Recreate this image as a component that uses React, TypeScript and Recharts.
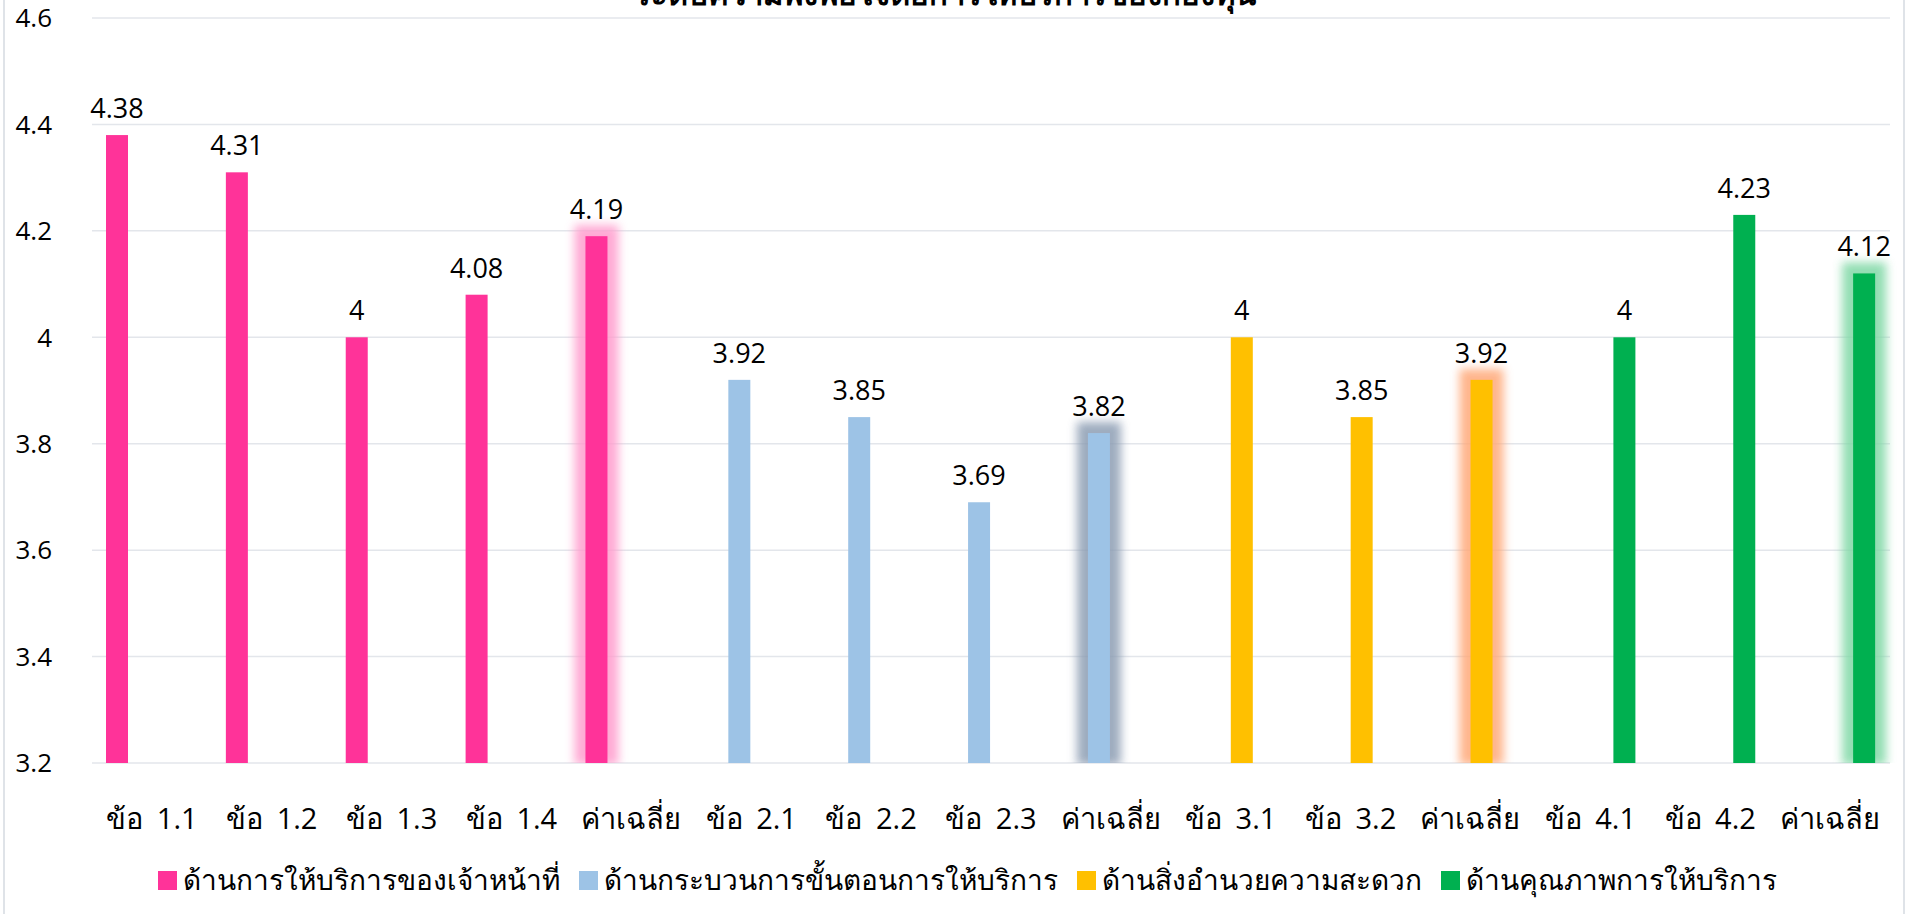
import React from 'react';
import { BarChart, Bar, XAxis, YAxis, CartesianGrid, Legend, LabelList } from 'recharts';

// x-axis categories, in order
const categories = [
  'ข้อ 1.1', 'ข้อ 1.2', 'ข้อ 1.3', 'ข้อ 1.4', 'ค่าเฉลี่ย',
  'ข้อ 2.1', 'ข้อ 2.2', 'ข้อ 2.3', 'ค่าเฉลี่ย',
  'ข้อ 3.1', 'ข้อ 3.2', 'ค่าเฉลี่ย',
  'ข้อ 4.1', 'ข้อ 4.2', 'ค่าเฉลี่ย',
];

// one list per side, in the same order as the categories
const staffValues = [4.38, 4.31, 4, 4.08, 4.19];
const processValues = [3.92, 3.85, 3.69, 3.82];
const facilityValues = [4, 3.85, 3.92];
const qualityValues = [4, 4.23, 4.12];

const seriesNames = [
  'ด้านการให้บริการของเจ้าหน้าที่',
  'ด้านกระบวนการขั้นตอนการให้บริการ',
  'ด้านสิ่งอำนวยความสะดวก',
  'ด้านคุณภาพการให้บริการ',
];

const yTicks = [3.2, 3.4, 3.6, 3.8, 4, 4.2, 4.4, 4.6];

const TITLE = 'ระดับความพึงพอใจต่อการให้บริการของกองทุน';
const AVG_LABEL = 'ค่าเฉลี่ย';

const COLORS = ['#FF3399', '#9DC3E6', '#FFC000', '#00B050'];
const GLOW = ['#ff9ccd', '#8c9db3', '#ffa878', '#80d8a6'];
const KEYS = ['s1', 's2', 's3', 's4'];

const FONT = '"Segoe UI", "Open Sans", "Noto Sans", sans-serif';

// each category gets a slot for all four sides; only its own side is filled
const groups = [staffValues, processValues, facilityValues, qualityValues];
const data: Record<string, any>[] = [];
groups.forEach((vals, g) => {
  vals.forEach((v) => {
    const i = data.length;
    const row: Record<string, any> = { name: categories[i], s1: null, s2: null, s3: null, s4: null };
    row[KEYS[g]] = v;
    data.push(row);
  });
});

const makeShape = (si: number) => (props: any) => {
  const { x, y, width, height, payload } = props;
  if (width == null || height == null || height <= 0) return <g />;
  const avg = payload && payload.name === AVG_LABEL;
  return (
    <g>
      {avg && (
        <rect
          x={x - 11}
          y={y - 11}
          width={width + 22}
          height={height + 13}
          fill={GLOW[si]}
          opacity={0.85}
          filter="url(#barGlow)"
        />
      )}
      <rect x={x} y={y} width={width} height={height} fill={COLORS[si]} />
    </g>
  );
};

const valueLabel = (props: any) => {
  const { x, y, width, value } = props;
  if (value == null) return null;
  return (
    <text
      x={x + width / 2}
      y={y - 17}
      textAnchor="middle"
      fontSize={27}
      fontFamily={FONT}
      fill="#000"
    >
      {value}
    </text>
  );
};

const LegendContent = () => (
  <div
    style={{
      display: 'flex',
      justifyContent: 'center',
      alignItems: 'center',
      height: 60,
      paddingLeft: 44,
      paddingBottom: 8,
      boxSizing: 'border-box',
      fontFamily: FONT,
      fontSize: 28,
      color: '#000',
    }}
  >
    {seriesNames.map((n, i) => (
      <div key={n} style={{ display: 'flex', alignItems: 'center', marginRight: i < 3 ? 19 : 0 }}>
        <span style={{ width: 19, height: 19, background: COLORS[i], marginRight: 6, display: 'inline-block' }} />
        <span>{n}</span>
      </div>
    ))}
  </div>
);

export default function App() {
  return (
    <div style={{ position: 'absolute', left: 0, top: 0, width: 1907, height: 914, background: '#fff', overflow: 'hidden' }}>
      <svg width={0} height={0} style={{ position: 'absolute' }}>
        <defs>
          <filter id="barGlow" x="-100%" y="-20%" width="300%" height="140%">
            <feGaussianBlur stdDeviation="5" />
          </filter>
        </defs>
      </svg>
      <div
        style={{
          position: 'absolute',
          top: -31,
          left: 0,
          width: 1890,
          textAlign: 'center',
          fontFamily: FONT,
          fontWeight: 'bold',
          fontSize: 31,
          color: '#000',
        }}
      >
        {TITLE}
      </div>
      <div style={{ position: 'absolute', left: 3, top: 0, width: 2, height: 914, background: '#dfe3e8' }} />
      <div style={{ position: 'absolute', left: 1903, top: 0, width: 2, height: 914, background: '#dfe3e8' }} />
      <BarChart
        width={1907}
        height={914}
        data={data}
        margin={{ top: 18, right: 17, bottom: 0, left: 0 }}
        barGap={1}
        barSize={22}
      >
        <CartesianGrid vertical={false} stroke="#e3e6eb" strokeWidth={1.5} />
        <XAxis
          dataKey="name"
          axisLine={false}
          tickLine={false}
          tickSize={0}
          tickMargin={45}
          height={91}
          interval={0}
          tick={{ fontSize: 29, fontFamily: FONT, fill: '#000', wordSpacing: 6 }}
        />
        <YAxis
          domain={[3.2, 4.6]}
          ticks={yTicks}
          allowDataOverflow
          axisLine={false}
          tickLine={false}
          tickSize={0}
          tickMargin={40}
          width={92}
          tick={{ fontSize: 26, fontFamily: FONT, fill: '#000' }}
        />
        <Legend verticalAlign="bottom" height={60} content={<LegendContent />} />
        {KEYS.map((k, i) => (
          <Bar
            key={k}
            dataKey={k}
            name={seriesNames[i]}
            fill={COLORS[i]}
            isAnimationActive={false}
            shape={makeShape(i)}
          >
            <LabelList dataKey={k} content={valueLabel} />
          </Bar>
        ))}
      </BarChart>
    </div>
  );
}
